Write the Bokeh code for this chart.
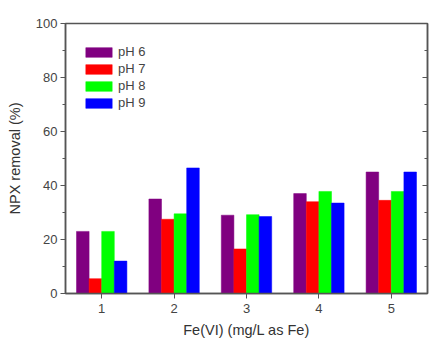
from bokeh.plotting import figure
from bokeh.models import ColumnDataSource, LinearAxis, SingleIntervalTicker, FixedTicker, Legend, LegendItem, Range1d
from bokeh.transform import dodge
from bokeh.embed import file_html
from bokeh.resources import INLINE

doses = [1, 2, 3, 4, 5]
ph6 = [23, 35, 29, 37, 45]
ph7 = [5.5, 27.5, 16.5, 34, 34.5]
ph8 = [23, 29.5, 29.2, 37.8, 37.8]
ph9 = [12, 46.5, 28.5, 33.5, 45]
series_names = ["pH 6", "pH 7", "pH 8", "pH 9"]
colors = ["#800080", "#FF0000", "#00FF00", "#0000FF"]

src = ColumnDataSource(dict(x=doses, ph6=ph6, ph7=ph7, ph8=ph8, ph9=ph9))

FONT = "Liberation Sans"
p = figure(width=429, height=340, output_backend="svg", toolbar_location=None,
           x_range=Range1d(0.5, 5.5), y_range=Range1d(0, 100),
           min_border_left=65, min_border_top=23, min_border_bottom=45, min_border_right=2)
p.grid.visible = False
p.outline_line_color = "#555555"
p.outline_line_width = 1.5
p.background_fill_color = "white"

bw = 0.174
offsets = [-1.5 * bw, -0.5 * bw, 0.5 * bw, 1.5 * bw]
keys = ["ph6", "ph7", "ph8", "ph9"]
renderers = []
for k, off, c in zip(keys, offsets, colors):
    r = p.vbar(x=dodge("x", off, range=p.x_range), top=k, width=bw, source=src,
               fill_color=c, line_color=c, line_width=0.5)
    renderers.append(r)

xa = p.xaxis[0]
xa.ticker = FixedTicker(ticks=doses)
xa.axis_label = "Fe(VI) (mg/L as Fe)"
ya = p.yaxis[0]
ya.ticker = SingleIntervalTicker(interval=20, num_minor_ticks=2)
ya.axis_label = "NPX removal (%)"
for ax in (xa, ya):
    ax.axis_line_color = "#555555"
    ax.axis_line_width = 1.5
    ax.major_tick_line_color = "#555555"
    ax.minor_tick_line_color = "#555555"
    ax.major_tick_out = 5
    ax.major_tick_in = 0
    ax.minor_tick_out = 3
    ax.minor_tick_in = 0
    ax.major_label_text_font = FONT
    ax.major_label_text_font_size = "13px"
    ax.major_label_text_color = "#444444"
    ax.axis_label_text_font = FONT
    ax.axis_label_text_font_style = "normal"
    ax.axis_label_text_font_size = "14.5px"
    ax.axis_label_text_color = "#333333"
xa.minor_tick_line_color = None
xa.major_label_standoff = 5
xa.axis_label_standoff = 6
ya.major_label_standoff = 3
ya.axis_label_standoff = 10

ra = LinearAxis(ticker=SingleIntervalTicker(interval=20, num_minor_ticks=2))
ra.major_label_text_color = None
ra.major_label_standoff = 0
ra.axis_line_color = "#555555"
ra.axis_line_width = 1.5
ra.major_tick_in = 5
ra.major_tick_out = 0
ra.minor_tick_in = 3
ra.minor_tick_out = 0
ra.major_tick_line_color = "#555555"
ra.minor_tick_line_color = "#555555"
p.add_layout(ra, "right")

legend = Legend(items=[LegendItem(label=n, renderers=[r]) for n, r in zip(series_names, renderers)],
                location=(17, 183), glyph_width=33, glyph_height=12, label_height=12,
                spacing=2, padding=0, margin=0, border_line_color=None,
                background_fill_alpha=0, label_text_font=FONT, label_text_font_size="13px",
                label_text_color="#444444", label_standoff=3)
p.add_layout(legend)

open("out.html", "w").write(file_html(p, INLINE))
